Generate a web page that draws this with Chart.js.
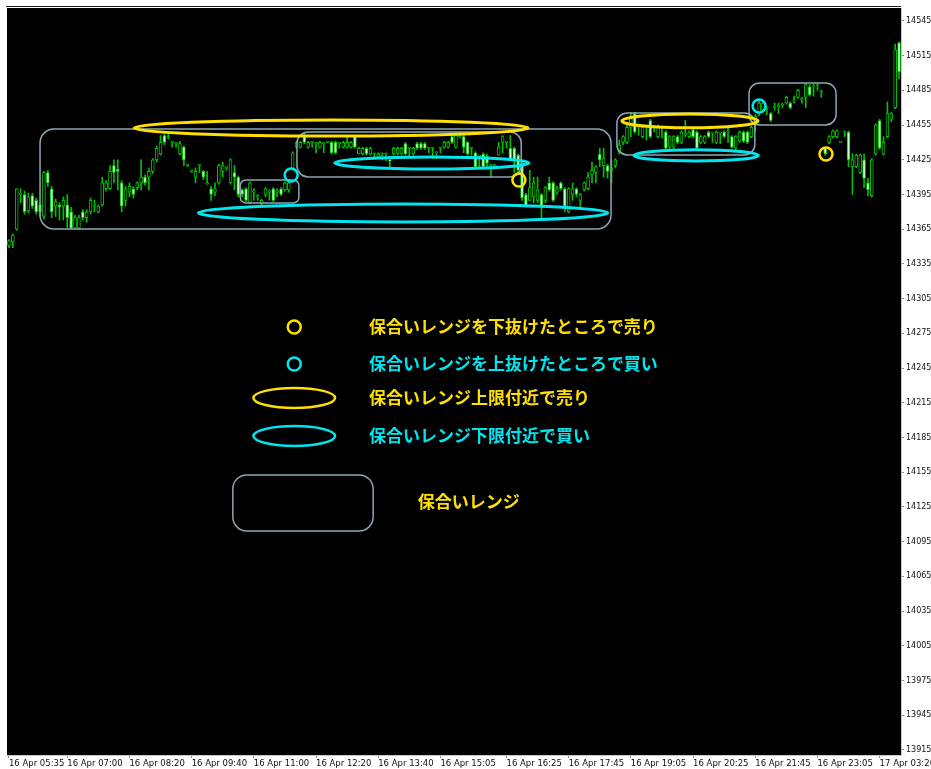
<!DOCTYPE html>
<html>
<head>
<meta charset="utf-8">
<script src="https://cdn.jsdelivr.net/npm/chart.js@4/dist/chart.umd.min.js"></script>
<style>
  html, body { margin: 0; padding: 0; background: #fff; }
</style>
</head>
<body>
<canvas id="priceChart" width="931" height="769"></canvas>
<script>
// 5 min candles
const opens = [
  14351,14354,14365,14395,14395,14381,14394,14390,14386,14376,
  14414,14400,14385,14386,14385,14386,14380,14366,14366,14380,
  14375,14380,14385,14380,14386,14400,14400,14420,14417,14405,
  14390,14397,14400,14401,14405,14410,14410,14415,14425,14430,
  14446,14444,14440,14439,14430,14436,14420,14415,14410,14420,
  14415,14404,14400,14397,14405,14415,14418,14405,14414,14410,
  14399,14400,14388,14397,14393,14387,14395,14397,14400,14397,
  14400,14399,14399,14417,14436,14436,14445,14436,14440,14439,
  14436,14439,14440,14440,14440,14439,14436,14436,14436,14445,
  14430,14430,14435,14430,14430,14427,14430,14430,14425,14430,
  14430,14430,14439,14435,14430,14439,14439,14439,14435,14435,
  14431,14435,14436,14436,14445,14436,14445,14445,14440,14435,
  14431,14428,14430,14428,14420,14420,14429,14440,14440,14435,
  14435,14429,14422,14395,14390,14393,14390,14395,14390,14405,
  14405,14397,14405,14400,14380,14395,14400,14390,14399,14400,
  14412,14414,14430,14420,14420,14415,14420,14432,14440,14440,
  14453,14465,14453,14445,14453,14459,14453,14445,14453,14449,
  14436,14436,14445,14440,14447,14445,14451,14449,14440,14440,
  14449,14448,14440,14448,14449,14449,14445,14435,14441,14449,
  14449,14445,14457,14465,14468,14470,14465,14470,14471,14472,
  14474,14474,14476,14479,14477,14479,14488,14488,14489,14484,
  14435,14440,14445,14445,14440,14449,14449,14419,14419,14414,
  14425,14405,14394,14430,14459,14430,14445,14460,14470,14526
];
const highs = [
  14356,14361,14400,14400,14398,14396,14396,14392,14388,14415,
  14416,14402,14391,14388,14393,14395,14384,14377,14377,14382,
  14382,14392,14390,14386,14410,14407,14420,14425,14425,14407,
  14402,14405,14402,14406,14425,14412,14418,14426,14437,14446,
  14447,14447,14441,14440,14441,14437,14421,14416,14418,14421,
  14416,14415,14402,14405,14421,14423,14419,14426,14420,14411,
  14400,14401,14406,14400,14395,14391,14401,14399,14401,14400,
  14401,14406,14408,14432,14441,14441,14449,14441,14441,14440,
  14441,14440,14441,14441,14441,14440,14441,14445,14441,14446,
  14436,14436,14436,14436,14431,14431,14431,14431,14428,14436,
  14436,14436,14440,14436,14436,14440,14440,14440,14436,14436,
  14432,14436,14441,14441,14446,14449,14449,14446,14441,14436,
  14432,14429,14431,14430,14421,14421,14440,14446,14441,14446,
  14436,14430,14423,14396,14416,14410,14410,14396,14402,14410,
  14406,14402,14406,14401,14401,14405,14401,14396,14406,14414,
  14423,14420,14435,14435,14421,14425,14426,14442,14446,14455,
  14466,14466,14455,14455,14455,14460,14455,14455,14454,14450,
  14446,14446,14446,14450,14459,14450,14452,14450,14446,14446,
  14450,14449,14450,14449,14450,14453,14446,14446,14450,14450,
  14450,14454,14464,14476,14475,14471,14466,14474,14474,14474,
  14480,14475,14480,14486,14479,14491,14490,14491,14491,14485,
  14436,14446,14451,14451,14441,14450,14450,14430,14430,14430,
  14430,14409,14426,14456,14460,14445,14475,14466,14525,14527
];
const lows = [
  14349,14349,14364,14388,14378,14379,14383,14378,14376,14374,
  14402,14375,14376,14373,14373,14366,14365,14365,14365,14373,
  14371,14378,14380,14379,14385,14398,14399,14405,14399,14380,
  14385,14393,14392,14399,14399,14403,14399,14413,14423,14429,
  14438,14443,14436,14436,14429,14420,14419,14414,14405,14414,
  14408,14404,14390,14394,14404,14410,14416,14404,14399,14393,
  14393,14389,14387,14390,14390,14386,14393,14390,14389,14393,
  14394,14398,14397,14416,14435,14435,14439,14435,14436,14431,
  14435,14431,14440,14430,14430,14435,14435,14435,14435,14435,
  14430,14429,14429,14429,14427,14426,14425,14424,14419,14429,
  14429,14429,14429,14428,14429,14434,14434,14434,14431,14426,
  14426,14431,14435,14435,14439,14435,14444,14431,14429,14429,
  14418,14419,14418,14418,14410,14418,14429,14431,14435,14424,
  14414,14413,14390,14384,14390,14388,14388,14375,14388,14398,
  14389,14395,14399,14380,14379,14390,14393,14384,14398,14399,
  14405,14405,14419,14410,14409,14405,14418,14430,14438,14439,
  14445,14448,14446,14444,14442,14444,14449,14444,14444,14434,
  14435,14434,14439,14439,14445,14444,14444,14434,14439,14439,
  14444,14440,14439,14439,14444,14440,14435,14433,14440,14440,
  14439,14444,14450,14463,14467,14464,14458,14468,14465,14470,
  14473,14469,14474,14478,14474,14470,14480,14480,14485,14479,
  14429,14439,14444,14444,14440,14445,14419,14395,14418,14413,
  14401,14394,14393,14429,14434,14429,14444,14458,14469,14495
];
const closes = [
  14355,14360,14400,14396,14380,14393,14385,14380,14380,14414,
  14405,14380,14389,14384,14390,14375,14366,14375,14375,14375,
  14380,14390,14386,14385,14405,14405,14415,14414,14415,14385,
  14400,14402,14395,14405,14410,14405,14415,14425,14435,14440,
  14440,14445,14440,14439,14439,14425,14420,14415,14415,14420,
  14410,14405,14395,14400,14420,14420,14418,14425,14410,14395,
  14395,14390,14405,14397,14393,14390,14400,14397,14390,14397,
  14395,14405,14405,14431,14440,14440,14440,14440,14440,14439,
  14440,14439,14440,14431,14431,14439,14440,14440,14440,14436,
  14435,14435,14430,14435,14430,14430,14430,14430,14424,14435,
  14435,14435,14430,14435,14435,14435,14435,14435,14435,14435,
  14431,14435,14440,14440,14440,14446,14445,14436,14430,14435,
  14419,14428,14419,14422,14420,14420,14436,14445,14440,14425,
  14425,14416,14392,14385,14401,14405,14399,14385,14401,14399,
  14390,14400,14400,14385,14400,14400,14395,14395,14405,14410,
  14416,14419,14425,14426,14415,14418,14425,14438,14445,14453,
  14463,14449,14453,14453,14453,14445,14453,14453,14453,14435,
  14445,14445,14440,14449,14447,14449,14445,14435,14445,14445,
  14445,14448,14449,14448,14445,14449,14436,14445,14449,14441,
  14440,14453,14463,14474,14474,14470,14459,14470,14471,14472,
  14479,14470,14476,14485,14477,14490,14481,14488,14489,14484,
  14430,14445,14450,14450,14440,14449,14425,14425,14429,14429,
  14409,14399,14425,14455,14435,14440,14465,14465,14520,14501
];

// time axis labels and the bars they sit on
const xTickLabels = [
  "16 Apr 05:35", "16 Apr 07:00", "16 Apr 08:20", "16 Apr 09:40", "16 Apr 11:00",
  "16 Apr 12:20", "16 Apr 13:40", "16 Apr 15:05", "16 Apr 16:25", "16 Apr 17:45",
  "16 Apr 19:05", "16 Apr 20:25", "16 Apr 21:45", "16 Apr 23:05", "17 Apr 03:20"
];
const xTickBars = [0, 15, 31, 47, 63, 79, 95, 111, 128, 144, 160, 176, 192, 208, 224];

const yTicks = [
  13915, 13945, 13975, 14005, 14035, 14065, 14095, 14125, 14155, 14185, 14215,
  14245, 14275, 14305, 14335, 14365, 14395, 14425, 14455, 14485, 14515, 14545
];

// drawn objects, in bar index / price units
// range boxes: [first bar, last bar, top price, bottom price]
const rangeBoxes = [
  [8.0, 154.9, 14451.6, 14365.2],
  [59.5, 74.6, 14407.6, 14387.7],
  [74.1, 131.8, 14449.1, 14410.2],
  [156.4, 191.9, 14465.5, 14429.2],
  [190.4, 212.8, 14491.4, 14455.1]
];
// ellipses: [centre bar, centre price, half width in bars, half height in price]
const sellZones = [
  [82.9, 14452.5, 50.7, 6.9],
  [175.2, 14458.6, 17.5, 6.0]
];
const buyZones = [
  [101.4, 14379.1, 52.7, 7.8],
  [108.8, 14422.3, 25.0, 5.2],
  [176.8, 14428.8, 16.0, 4.8]
];
// breakout points: [bar, price]
const sellBreaks = [[131.2, 14407.6], [210.2, 14430.0]];
const buyBreaks = [[72.6, 14411.9], [193.0, 14471.5]];

// legend
const legendTexts = [
  "保合いレンジを下抜けたところで売り",
  "保合いレンジを上抜けたところで買い",
  "保合いレンジ上限付近で売り",
  "保合いレンジ下限付近で買い",
  "保合いレンジ"
];
const legendRows = [14280.5, 14248.5, 14219.2, 14186.3];
const legendSymbolBar = 73.4;
const legendTextBar = 92.6;
const legendZoneSize = [10.5, 8.6];
const legendBox = [57.6, 93.7, 14152.6, 14104.2];
const legendBoxText = [105.2, 14129.3];

const YELLOW = "#ffe000";
const CYAN = "#00e6f0";
const BOX = "#8ca6b2";
const WICK = "#00c000";

const barLabels = opens.map((_, i) => i);

function roundBox(ctx, x0, y0, x1, y1, r) {
  ctx.beginPath();
  ctx.moveTo(x0 + r, y0);
  ctx.arcTo(x1, y0, x1, y1, r);
  ctx.arcTo(x1, y1, x0, y1, r);
  ctx.arcTo(x0, y1, x0, y0, r);
  ctx.arcTo(x0, y0, x1, y0, r);
  ctx.closePath();
  ctx.stroke();
}

const background = {
  id: "background",
  beforeDraw(chart) {
    const { ctx, chartArea: a } = chart;
    ctx.save();
    ctx.fillStyle = "#fff";
    ctx.fillRect(0, 0, chart.width, chart.height);
    ctx.fillStyle = "#000";
    ctx.fillRect(a.left, a.top, a.right - a.left, a.bottom - a.top);
    ctx.fillStyle = "#1a1a1a";
    ctx.fillRect(a.left - 1, a.top - 2, a.right - a.left + 1, 1);
    ctx.restore();
  }
};

const drawings = {
  id: "drawings",
  afterDatasetsDraw(chart) {
    const { ctx, chartArea: a } = chart;
    const xs = chart.scales.x;
    const ys = chart.scales.y;
    const px = (b) => xs.getPixelForValue(b);
    const py = (p) => ys.getPixelForValue(p);

    ctx.save();
    ctx.beginPath();
    ctx.rect(a.left, a.top, a.right - a.left, a.bottom - a.top);
    ctx.clip();

    // range boxes
    ctx.strokeStyle = BOX;
    ctx.lineWidth = 1.5;
    rangeBoxes.concat([legendBox]).forEach(([b0, b1, top, bottom]) => {
      const y0 = py(top), y1 = py(bottom);
      roundBox(ctx, px(b0), y0, px(b1), y1, Math.min(14, (y1 - y0) / 4));
    });

    function zone(z, color, lw) {
      const cx = px(z[0]), cy = py(z[1]);
      const rx = px(z[0] + z[2]) - cx, ry = py(z[1] - z[3]) - cy;
      ctx.strokeStyle = color;
      ctx.lineWidth = lw;
      ctx.beginPath();
      ctx.ellipse(cx, cy, rx, ry, 0, 0, Math.PI * 2);
      ctx.stroke();
    }
    function ring(pt, color) {
      ctx.strokeStyle = color;
      ctx.lineWidth = 2.5;
      ctx.beginPath();
      ctx.arc(px(pt[0]), py(pt[1]), 6.5, 0, Math.PI * 2);
      ctx.stroke();
    }

    sellZones.forEach(z => zone(z, YELLOW, 3));
    buyZones.forEach(z => zone(z, CYAN, 3));
    sellBreaks.forEach(p => ring(p, YELLOW));
    buyBreaks.forEach(p => ring(p, CYAN));

    // legend
    ring([legendSymbolBar, legendRows[0]], YELLOW);
    ring([legendSymbolBar, legendRows[1]], CYAN);
    zone([legendSymbolBar, legendRows[2], legendZoneSize[0], legendZoneSize[1]], YELLOW, 2.5);
    zone([legendSymbolBar, legendRows[3], legendZoneSize[0], legendZoneSize[1]], CYAN, 2.5);

    ctx.font = "bold 17px 'Noto Sans CJK JP'";
    ctx.textAlign = "left";
    ctx.textBaseline = "middle";
    const textColors = [YELLOW, CYAN, YELLOW, CYAN];
    legendRows.forEach((p, i) => {
      ctx.fillStyle = textColors[i];
      ctx.fillText(legendTexts[i], px(legendTextBar), py(p));
    });
    ctx.fillStyle = YELLOW;
    ctx.fillText(legendTexts[4], px(legendBoxText[0]), py(legendBoxText[1]));

    ctx.restore();
  }
};

function initChart() {
  const ctx = document.getElementById("priceChart").getContext("2d");
  new Chart(ctx, {
    type: "bar",
    data: {
      labels: barLabels,
      datasets: [
        {
          label: "body",
          data: opens.map((o, i) => [o, closes[i]]),
          grouped: false,
          barThickness: 3,
          minBarLength: 1,
          borderWidth: 1,
          borderSkipped: false,
          borderColor: WICK,
          backgroundColor: (c) => closes[c.dataIndex] < opens[c.dataIndex] ? "#c8ffc8" : "#000"
        },
        {
          label: "wick",
          data: lows.map((l, i) => [l, highs[i]]),
          grouped: false,
          barThickness: 1,
          backgroundColor: WICK,
          borderWidth: 0
        }
      ]
    },
    options: {
      responsive: false,
      animation: false,
      events: [],
      layout: { padding: { left: 7, top: 8, right: 0, bottom: 0 } },
      plugins: {
        legend: { display: false },
        tooltip: { enabled: false }
      },
      scales: {
        x: {
          type: "category",
          offset: true,
          afterBuildTicks: (s) => { s.ticks = xTickBars.map(v => ({ value: v })); },
          afterFit: (s) => {
            s.height = 14;
            // labels may run past the right edge, as in the terminal
            s.paddingLeft = 0;
            s.paddingRight = 0;
          },
          grid: {
            offset: false,
            drawOnChartArea: false,
            drawTicks: true,
            tickLength: 3,
            color: "#8c8c8c"
          },
          border: { display: true, color: "#c8c8c8", width: 1 },
          ticks: {
            autoSkip: false,
            maxRotation: 0,
            minRotation: 0,
            align: "start",
            padding: 1,
            color: "#111",
            font: { family: "DejaVu Sans", size: 8.5 },
            callback: (v) => xTickLabels[xTickBars.indexOf(v)]
          }
        },
        y: {
          type: "linear",
          position: "right",
          min: 13910.6,
          max: 14556.2,
          afterBuildTicks: (s) => { s.ticks = yTicks.map(v => ({ value: v })); },
          afterFit: (s) => { s.width = 30; },
          grid: {
            drawOnChartArea: false,
            drawTicks: true,
            tickLength: 3,
            color: "#8c8c8c"
          },
          border: { display: true, color: "#c8c8c8", width: 1 },
          ticks: {
            padding: 2,
            color: "#111",
            font: { family: "DejaVu Sans", size: 8 },
            callback: (v) => String(v)
          }
        }
      }
    },
    plugins: [background, drawings]
  });
}

window.onload = () => {
  initChart();
};
</script>
</body>
</html>
